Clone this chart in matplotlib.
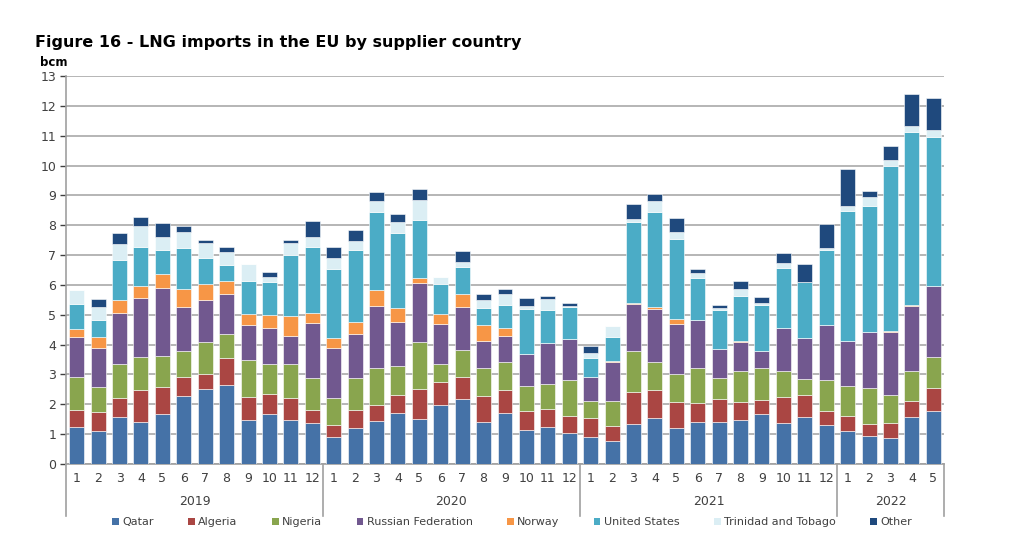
import matplotlib
matplotlib.use("Agg")
import matplotlib.pyplot as plt
import matplotlib.transforms as mtransforms
from matplotlib.patches import Patch
import numpy as np

# ---- data (bcm) ----
years = ["2019", "2020", "2021", "2022"]
months_per_year = [12, 12, 12, 5]
month_labels = [str(m) for n in months_per_year for m in range(1, n + 1)]

series_names = ["Qatar", "Algeria", "Nigeria", "Russian Federation", "Norway",
                "United States", "Trinidad and Tobago", "Other"]

qatar = [1.25, 1.10, 1.56, 1.42, 1.66, 2.27, 2.52, 2.66, 1.48, 1.66, 1.48, 1.38,
         0.89, 1.20, 1.45, 1.71, 1.52, 1.98, 2.19, 1.41, 1.70, 1.13, 1.25, 1.03,
         0.89, 0.78, 1.34, 1.55, 1.20, 1.42, 1.42, 1.46, 1.69, 1.38, 1.59, 1.32,
         1.12, 0.95, 0.87, 1.58, 1.76]
algeria = [0.56, 0.63, 0.64, 1.05, 0.92, 0.63, 0.48, 0.88, 0.76, 0.68, 0.72, 0.43,
           0.42, 0.61, 0.53, 0.59, 1.00, 0.77, 0.74, 0.88, 0.77, 0.64, 0.59, 0.57,
           0.65, 0.50, 1.06, 0.92, 0.88, 0.63, 0.77, 0.62, 0.46, 0.85, 0.71, 0.45,
           0.48, 0.38, 0.50, 0.53, 0.80]
nigeria = [1.12, 0.85, 1.15, 1.13, 1.05, 0.88, 1.09, 0.83, 1.23, 1.01, 1.15, 1.07,
           0.89, 1.06, 1.24, 0.99, 1.58, 0.60, 0.88, 0.92, 0.95, 0.85, 0.85, 1.22,
           0.58, 0.84, 1.39, 0.94, 0.94, 1.15, 0.70, 1.02, 1.05, 0.90, 0.55, 1.05,
           1.01, 1.22, 0.95, 1.01, 1.01]
russia = [1.31, 1.31, 1.70, 1.96, 2.27, 1.47, 1.41, 1.31, 1.19, 1.20, 0.95, 1.85,
          1.68, 1.48, 2.07, 1.48, 1.96, 1.34, 1.44, 0.91, 0.88, 1.05, 1.37, 1.37,
          0.81, 1.29, 1.58, 1.79, 1.68, 1.62, 0.95, 0.98, 0.60, 1.41, 1.36, 1.83,
          1.50, 1.87, 2.11, 2.18, 2.40]
norway = [0.28, 0.35, 0.45, 0.42, 0.45, 0.60, 0.53, 0.46, 0.35, 0.45, 0.65, 0.32,
          0.35, 0.41, 0.53, 0.46, 0.18, 0.34, 0.46, 0.54, 0.25, 0.00, 0.00, 0.00,
          0.00, 0.05, 0.04, 0.05, 0.15, 0.00, 0.00, 0.04, 0.00, 0.00, 0.00, 0.00,
          0.00, 0.00, 0.04, 0.04, 0.00]
united_states = [0.85, 0.59, 1.32, 1.29, 0.82, 1.39, 0.86, 0.54, 1.12, 1.10, 2.04, 2.22,
                 2.31, 2.41, 2.61, 2.50, 1.94, 1.01, 0.89, 0.57, 0.77, 1.54, 1.09, 1.06,
                 0.63, 0.80, 2.69, 3.21, 2.68, 1.42, 1.31, 1.51, 1.52, 2.04, 1.90, 2.52,
                 4.37, 4.24, 5.51, 5.78, 4.97]
trinidad = [0.45, 0.42, 0.56, 0.70, 0.44, 0.53, 0.52, 0.41, 0.58, 0.16, 0.42, 0.34,
            0.36, 0.31, 0.38, 0.37, 0.66, 0.23, 0.18, 0.26, 0.36, 0.09, 0.39, 0.05,
            0.17, 0.36, 0.12, 0.35, 0.24, 0.17, 0.07, 0.25, 0.09, 0.16, 0.00, 0.08,
            0.15, 0.28, 0.19, 0.22, 0.26]
other = [0.00, 0.28, 0.35, 0.31, 0.47, 0.20, 0.10, 0.19, 0.00, 0.18, 0.10, 0.53,
         0.37, 0.36, 0.31, 0.29, 0.38, 0.00, 0.34, 0.19, 0.17, 0.27, 0.10, 0.08,
         0.23, 0.00, 0.50, 0.22, 0.48, 0.11, 0.10, 0.24, 0.19, 0.32, 0.59, 0.80,
         1.25, 0.20, 0.48, 1.05, 1.06]

series = [qatar, algeria, nigeria, russia, norway, united_states, trinidad, other]
colors = ["#4572A7", "#AA4643", "#89A54E", "#71588F", "#F79646",
          "#4BACC6", "#DBEEF4", "#1F497D"]

# ---- figure ----
fig = plt.figure(figsize=(10.24, 5.49), dpi=100)
ax = fig.add_axes([66 / 1024, 1 - 464 / 549, (944 - 66) / 1024, (464 - 76) / 549])

n = len(month_labels)
x = np.arange(n)
bottom = np.zeros(n)
for vals, col in zip(series, colors):
    v = np.array(vals)
    ax.bar(x, v, bottom=bottom, width=0.7, color=col, edgecolor="white",
           linewidth=0.4, zorder=3)
    bottom += v

ax.set_xlim(-0.5, n - 0.5)
ax.set_ylim(0, 13)
ax.set_yticks(range(0, 14))
ax.tick_params(axis="y", labelsize=9, colors="#404040", length=4, width=1,
               direction="out", pad=3)
ax.yaxis.grid(True, color="#b5b5b5", linewidth=1.4, zorder=0)
ax.set_axisbelow(True)
for s in ["top", "right"]:
    ax.spines[s].set_visible(False)
ax.spines["left"].set_color("#a0a0a0")
ax.spines["left"].set_linewidth(1.2)
ax.spines["bottom"].set_color("#a0a0a0")
ax.spines["bottom"].set_linewidth(1.2)

ax.set_xticks(x)
ax.set_xticklabels(month_labels, fontsize=9, color="#404040")
ax.tick_params(axis="x", length=0, pad=6)

# year labels and separators
trans = mtransforms.blended_transform_factory(ax.transData, ax.transAxes)
start = 0
bounds = [-0.5]
for yr, cnt in zip(years, months_per_year):
    center = start + (cnt - 1) / 2
    ax.text(center, -0.097, yr, transform=trans, ha="center", va="center",
            fontsize=9, color="#404040")
    start += cnt
    bounds.append(start - 0.5)
for b in bounds:
    ax.plot([b, b], [0, -0.135], transform=trans, color="#a0a0a0",
            linewidth=1.2, clip_on=False)

# title and unit
fig.text(35 / 1024, 1 - 43 / 549, "Figure 16 - LNG imports in the EU by supplier country",
         fontsize=11.5, fontweight="bold", ha="left", va="center", color="black")
fig.text(40 / 1024, 1 - 63 / 549, "bcm", fontsize=8.5, fontweight="bold",
         ha="left", va="center", color="black")

# legend
handles = [Patch(facecolor=c, edgecolor="none") for c in colors]
fig.legend(handles, series_names, loc="center", bbox_to_anchor=(0.5, 1 - 522 / 549),
           ncol=8, frameon=False, fontsize=8, handlelength=0.6, handleheight=0.6,
           handletextpad=0.3, columnspacing=3.1, labelcolor="#404040")

fig.savefig("out.png", dpi=100)
